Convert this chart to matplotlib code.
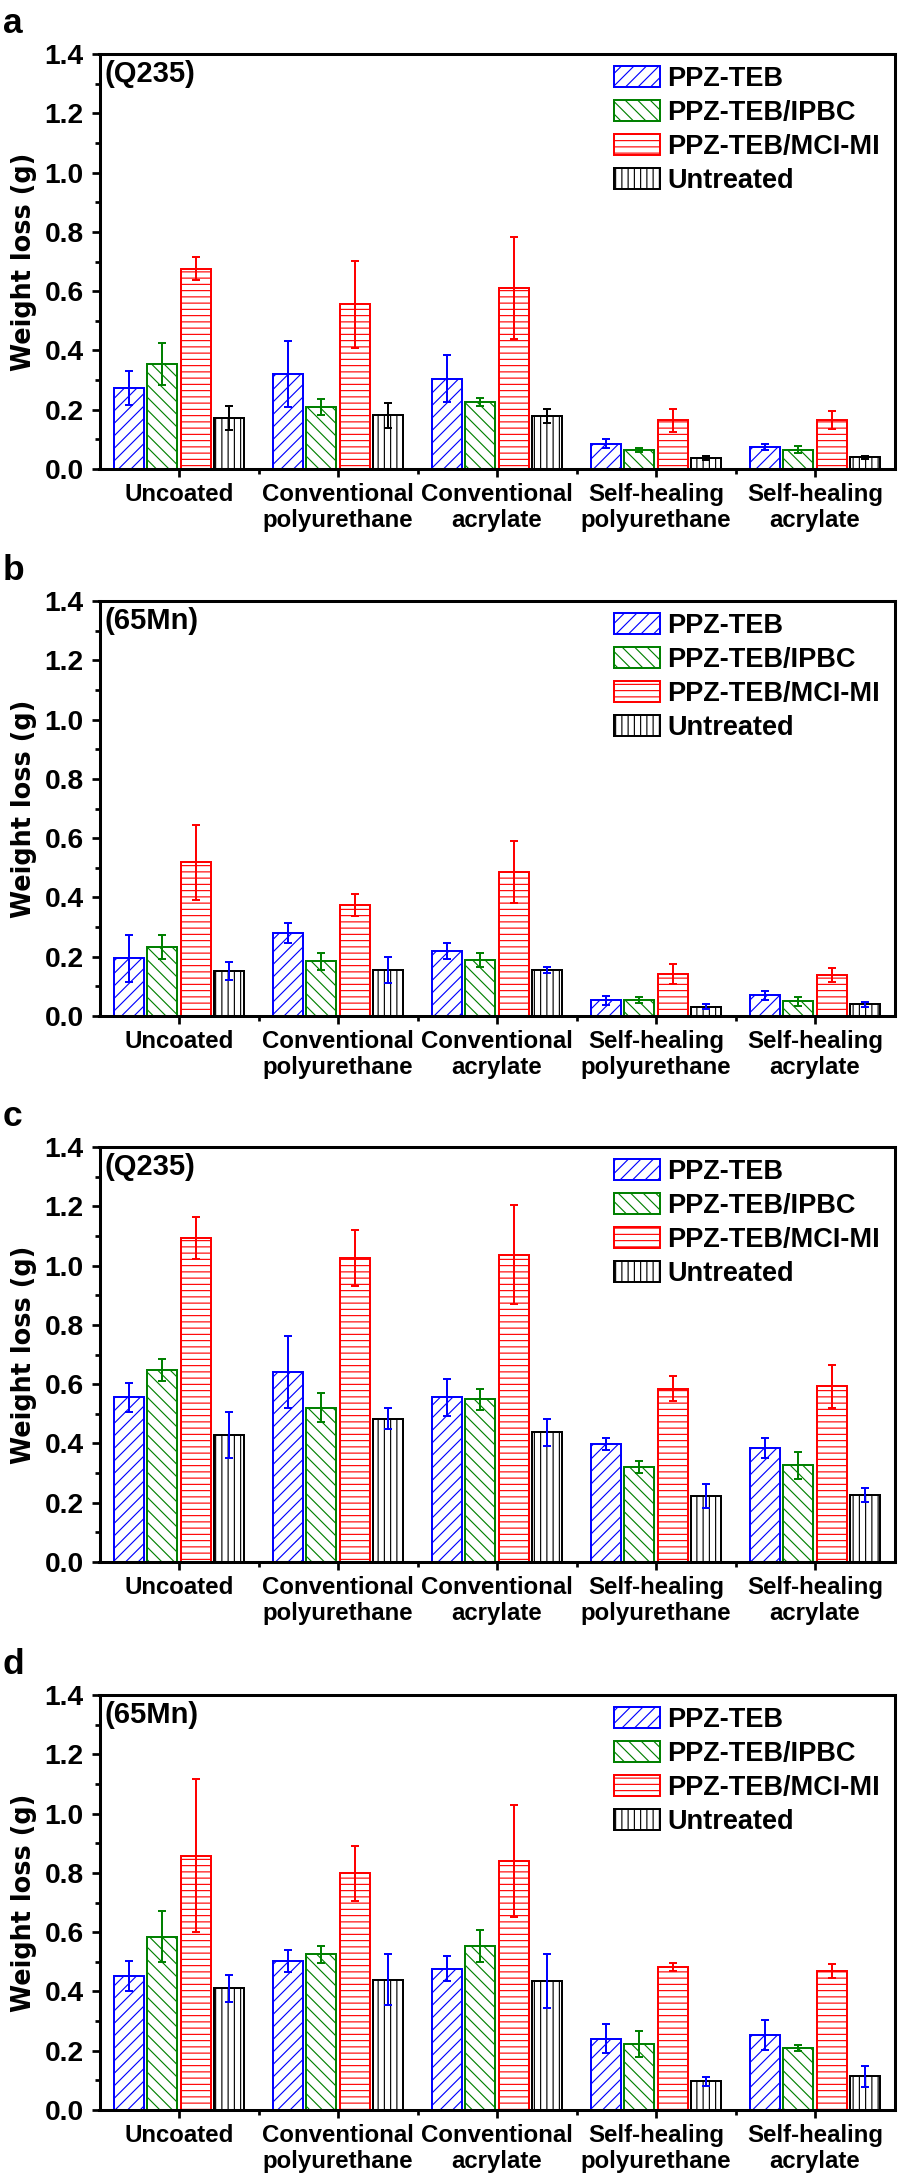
import numpy as np
import matplotlib
matplotlib.use('Agg')
import matplotlib.pyplot as plt
from matplotlib.ticker import MultipleLocator, FormatStrFormatter

# categories and series
categories = ['Uncoated', 'Conventional\npolyurethane', 'Conventional\nacrylate',
              'Self-healing\npolyurethane', 'Self-healing\nacrylate']
series = ['PPZ-TEB', 'PPZ-TEB/IPBC', 'PPZ-TEB/MCI-MI', 'Untreated']
panel_letters = ['a', 'b', 'c', 'd']
substrates = ['(Q235)', '(65Mn)', '(Q235)', '(65Mn)']

# weight loss (g), rows follow "series"
a_mean = [[0.274, 0.320, 0.305, 0.086, 0.075],
          [0.354, 0.209, 0.226, 0.064, 0.065],
          [0.676, 0.555, 0.612, 0.164, 0.165],
          [0.173, 0.182, 0.179, 0.037, 0.039]]
a_err = [[0.058, 0.112, 0.080, 0.015, 0.010],
         [0.070, 0.027, 0.014, 0.007, 0.011],
         [0.040, 0.147, 0.172, 0.039, 0.029],
         [0.040, 0.042, 0.024, 0.006, 0.004]]

b_mean = [[0.194, 0.280, 0.220, 0.053, 0.070],
          [0.232, 0.184, 0.189, 0.054, 0.049],
          [0.518, 0.374, 0.485, 0.142, 0.138],
          [0.152, 0.156, 0.156, 0.031, 0.040]]
b_err = [[0.078, 0.033, 0.027, 0.016, 0.015],
         [0.041, 0.030, 0.025, 0.009, 0.015],
         [0.126, 0.036, 0.105, 0.033, 0.024],
         [0.031, 0.043, 0.010, 0.009, 0.008]]

c_mean = [[0.555, 0.642, 0.555, 0.397, 0.384],
          [0.648, 0.521, 0.549, 0.321, 0.326],
          [1.092, 1.026, 1.037, 0.585, 0.593],
          [0.429, 0.484, 0.437, 0.222, 0.225]]
c_err = [[0.048, 0.122, 0.064, 0.020, 0.034],
         [0.038, 0.049, 0.035, 0.020, 0.046],
         [0.071, 0.095, 0.166, 0.042, 0.073],
         [0.077, 0.037, 0.047, 0.040, 0.023]]

d_mean = [[0.452, 0.504, 0.477, 0.240, 0.253],
          [0.585, 0.525, 0.553, 0.222, 0.209],
          [0.858, 0.798, 0.841, 0.483, 0.469],
          [0.410, 0.440, 0.434, 0.097, 0.114]]
d_err = [[0.049, 0.037, 0.042, 0.049, 0.050],
         [0.085, 0.028, 0.055, 0.043, 0.009],
         [0.258, 0.092, 0.189, 0.013, 0.023],
         [0.044, 0.086, 0.091, 0.015, 0.035]]

means = [a_mean, b_mean, c_mean, d_mean]
errs = [a_err, b_err, c_err, d_err]

colors = ['#0000ff', '#008000', '#ff0000', '#000000']
hatches = ['//', '\\\\', '--', '||']
untreated_err_color = ['#000000', '#0000ff', '#0000ff', '#0000ff']

plt.rcParams['font.family'] = ['Liberation Sans', 'DejaVu Sans']
plt.rcParams['font.weight'] = 'bold'
plt.rcParams['hatch.linewidth'] = 1.1

W, H = 898, 2182
fig = plt.figure(figsize=(W / 75, H / 75), dpi=75)

ax_left, ax_w, ax_h = 99.5, 795, 415
ax_tops = [54, 601, 1147, 1695]

x = np.arange(len(categories))
pitch = 0.2095
width = 0.189

for p in range(4):
    top = ax_tops[p]
    ax = fig.add_axes([ax_left / W, (H - top - ax_h) / H, ax_w / W, ax_h / H])
    for s in range(4):
        pos = x + (s - 1.5) * pitch
        ax.bar(pos, means[p][s], width, color='white', edgecolor=colors[s],
               hatch=hatches[s], linewidth=1.9, label=series[s], zorder=2)
        ecol = untreated_err_color[p] if s == 3 else colors[s]
        ax.errorbar(pos, means[p][s], yerr=errs[p][s], fmt='none', ecolor=ecol,
                    elinewidth=1.9, capsize=4.2, capthick=1.9, zorder=3)

    ax.set_xlim(-0.5, 4.5)
    ax.set_ylim(0, 1.4)
    ax.yaxis.set_major_locator(MultipleLocator(0.2))
    ax.yaxis.set_minor_locator(MultipleLocator(0.1))
    ax.yaxis.set_major_formatter(FormatStrFormatter('%.1f'))
    ax.set_xticks(x)
    ax.set_xticks(x[:-1] + 0.5, minor=True)
    ax.set_xticklabels(categories, fontsize=23, fontweight='bold', linespacing=1.2)
    ax.tick_params(axis='x', which='major', length=8, width=2.6, pad=5)
    ax.tick_params(axis='x', which='minor', length=5, width=2.6)
    ax.tick_params(axis='y', which='major', length=8, width=2.6, pad=7, labelsize=27)
    ax.tick_params(axis='y', which='minor', length=5, width=2.6)
    for sp in ax.spines.values():
        sp.set_linewidth(2.9)
    ax.set_ylabel('Weight loss (g)', fontsize=24.5, fontweight='bold',
                  family='DejaVu Sans', labelpad=7)

    ax.text(0.006, 0.985, substrates[p], transform=ax.transAxes, fontsize=28,
            fontweight='bold', ha='left', va='top')
    ax.legend(loc='upper left', bbox_to_anchor=(0.647, 0.972), frameon=False,
              fontsize=26, handlelength=1.7, handleheight=0.8,
              handletextpad=0.26, labelspacing=0.3, borderpad=0, borderaxespad=0)

    fig.text(3 / W, 1 - (top - 21) / H, panel_letters[p], fontsize=34,
             fontweight='bold', ha='left', va='baseline')

plt.savefig('out.png', dpi=75)
